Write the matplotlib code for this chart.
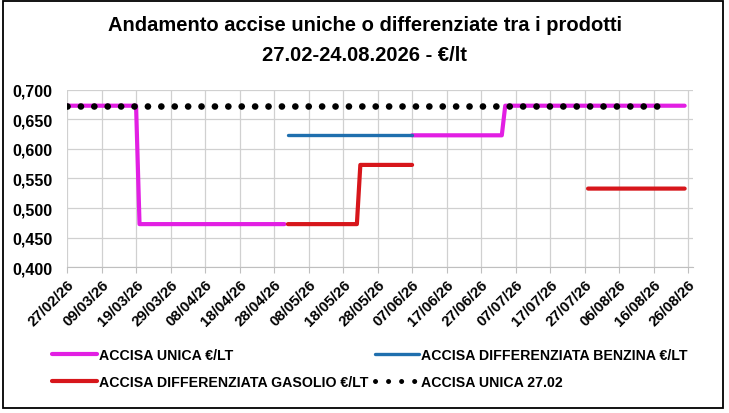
import matplotlib
matplotlib.use("Agg")
import matplotlib.pyplot as plt
import matplotlib.dates as mdates
from matplotlib.patches import Rectangle
from matplotlib.lines import Line2D
from matplotlib.ticker import FuncFormatter
import numpy as np
import pandas as pd

plt.rcParams['font.family'] = ['Liberation Sans', 'DejaVu Sans']
plt.rcParams['font.weight'] = 'bold'

# accisa unica (magenta), breaks marked with nan
unica_dates = ['2026-02-27', '2026-03-19', '2026-03-20', '2026-05-01',
               '2026-05-01', '2026-06-07', '2026-07-03', '2026-07-04', '2026-08-25']
unica_vals = [0.6729, 0.6729, 0.4729, 0.4729, np.nan, 0.6229, 0.6229, 0.6729, 0.6729]

benzina_dates = ['2026-05-02', '2026-06-07']
benzina_vals = [0.6229, 0.6229]

gasolio_dates = ['2026-05-02', '2026-05-22', '2026-05-23', '2026-06-07',
                 '2026-06-07', '2026-07-28', '2026-08-25']
gasolio_vals = [0.4729, 0.4729, 0.5729, 0.5729, np.nan, 0.5329, 0.5329]

rif_dates = ['2026-02-27', '2026-08-20']
rif_vals = [0.6729, 0.6729]

tick_start = '2026-02-27'
n_ticks = 19

MAGENTA = '#E21FE3'
BLUE = '#1F6FAE'
RED = '#D7161B'

fig = plt.figure(figsize=(7.29, 4.14), dpi=100)
ax = fig.add_axes([0.092, 0.352, 0.859, 0.429])

l1, = ax.plot(pd.to_datetime(unica_dates), unica_vals, color=MAGENTA, lw=3.0,
              solid_capstyle='round', solid_joinstyle='round')
l2, = ax.plot(pd.to_datetime(benzina_dates), benzina_vals, color=BLUE, lw=2.4,
              solid_capstyle='round')
l3, = ax.plot(pd.to_datetime(gasolio_dates), gasolio_vals, color=RED, lw=3.0,
              solid_capstyle='round', solid_joinstyle='round')
l4, = ax.plot(pd.to_datetime(rif_dates), rif_vals, color='black', linewidth=4.8,
              linestyle=(0, (0.01, 2.0)), dash_capstyle='round')

ticks = pd.date_range(tick_start, periods=n_ticks, freq='10D')
ax.set_xticks(ticks)
ax.xaxis.set_major_formatter(mdates.DateFormatter('%d/%m/%y'))
ax.set_xlim(pd.Timestamp('2026-02-27'), pd.Timestamp('2026-08-27 12:00'))
ax.set_ylim(0.4, 0.7)
ax.set_yticks(np.arange(0.40, 0.701, 0.05))
ax.yaxis.set_major_formatter(FuncFormatter(lambda v, p: f"{v:.3f}".replace('.', ',')))

for lab in ax.get_xticklabels():
    lab.set_rotation(45)
    lab.set_ha('right')
    lab.set_rotation_mode('anchor')
ax.tick_params(axis='x', labelsize=10.8, length=4, color='#BFBFBF', pad=3)
ax.tick_params(axis='y', labelsize=11.5, length=0, pad=10.5)

ax.grid(True, color='#D0D0D0', linewidth=0.9)
ax.set_axisbelow(True)
for s in ['top', 'right', 'left']:
    ax.spines[s].set_visible(False)
ax.spines['bottom'].set_color('#BFBFBF')

fig.text(0.5, 0.938, "Andamento accise uniche o differenziate tra i prodotti",
         ha='center', va='center', fontsize=14.5)
fig.text(0.5, 0.866, "27.02-24.08.2026 - €/lt", ha='center', va='center', fontsize=14.5)

handles = [l1, l3, l2, Line2D([], [], color='black', linewidth=3.6,
                              linestyle=(0, (0.01, 2.6)), dash_capstyle='round')]
labels = ["ACCISA UNICA €/LT", "ACCISA DIFFERENZIATA GASOLIO €/LT",
          "ACCISA DIFFERENZIATA BENZINA €/LT", "ACCISA UNICA 27.02"]
fig.legend(handles, labels, ncol=2, loc='center left', bbox_to_anchor=(0.0715, 0.108),
           frameon=False, fontsize=10.2, handlelength=3.15, handletextpad=0.15,
           columnspacing=0.45, labelspacing=0.9, borderpad=0, borderaxespad=0)

fig.patches.append(Rectangle((0.004, 0.012), 0.988, 0.983, transform=fig.transFigure,
                             fill=False, edgecolor='black', linewidth=1.3))

fig.savefig('out.png', dpi=100)
